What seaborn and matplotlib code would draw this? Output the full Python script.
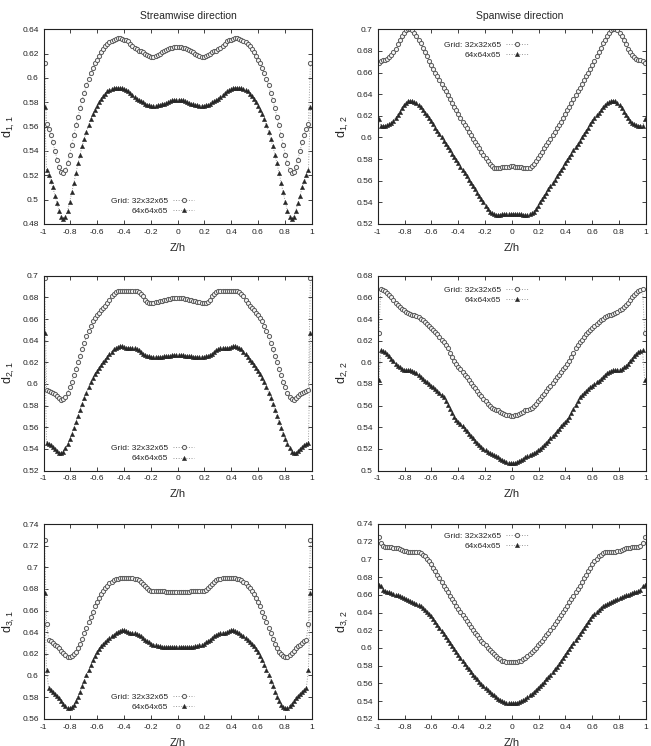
import matplotlib
matplotlib.use("Agg")
import matplotlib.pyplot as plt
from matplotlib.ticker import MultipleLocator, FuncFormatter
import numpy as np
import pandas as pd
import seaborn as sns

# ---------------- data (left half, Z from -1 to 0; profiles are symmetric) -------------
Z_HALF = [
    -0.992, -0.977, -0.961, -0.945, -0.930, -0.914, -0.898, -0.883,
    -0.867, -0.852, -0.836, -0.820, -0.805, -0.789, -0.773, -0.758,
    -0.742, -0.727, -0.711, -0.695, -0.680, -0.664, -0.648, -0.633,
    -0.617, -0.602, -0.586, -0.570, -0.555, -0.539, -0.523, -0.508,
    -0.492, -0.477, -0.461, -0.445, -0.430, -0.414, -0.398, -0.383,
    -0.367, -0.352, -0.336, -0.320, -0.305, -0.289, -0.273, -0.258,
    -0.242, -0.227, -0.211, -0.195, -0.180, -0.164, -0.148, -0.133,
    -0.117, -0.102, -0.086, -0.070, -0.055, -0.039, -0.023, -0.008]

D11_32 = [
    0.612, 0.562, 0.558, 0.553, 0.547, 0.540, 0.533, 0.527,
    0.523, 0.522, 0.524, 0.530, 0.537, 0.545, 0.553, 0.561,
    0.568, 0.575, 0.582, 0.588, 0.594, 0.599, 0.604, 0.608,
    0.612, 0.615, 0.618, 0.621, 0.624, 0.626, 0.628, 0.6295,
    0.6305, 0.6315, 0.632, 0.6325, 0.6325, 0.632, 0.6315, 0.631,
    0.630, 0.628, 0.6265, 0.625, 0.6235, 0.6225, 0.622, 0.621,
    0.620, 0.619, 0.618, 0.6175, 0.6175, 0.618, 0.619, 0.620,
    0.621, 0.622, 0.623, 0.624, 0.6248, 0.625, 0.6253, 0.6255]
D11_64 = [
    0.576, 0.524, 0.520, 0.515, 0.510, 0.503, 0.497, 0.491,
    0.486, 0.484, 0.486, 0.491, 0.498, 0.506, 0.514, 0.522,
    0.530, 0.537, 0.544, 0.550, 0.556, 0.561, 0.566, 0.570,
    0.574, 0.577, 0.580, 0.583, 0.585, 0.587, 0.589, 0.590,
    0.591, 0.5915, 0.592, 0.592, 0.592, 0.5915, 0.591, 0.590,
    0.589, 0.5875, 0.586, 0.5845, 0.583, 0.582, 0.581, 0.580,
    0.579, 0.578, 0.5775, 0.577, 0.577, 0.5772, 0.5775, 0.578,
    0.5785, 0.579, 0.5795, 0.580, 0.581, 0.5815, 0.582, 0.582]
D12_32 = [
    0.669, 0.671, 0.672, 0.672, 0.673, 0.674, 0.676, 0.679,
    0.682, 0.686, 0.690, 0.694, 0.697, 0.699, 0.700, 0.700,
    0.699, 0.697, 0.694, 0.6905, 0.687, 0.683, 0.679, 0.675,
    0.671, 0.6672, 0.6635, 0.660, 0.6565, 0.653, 0.6495, 0.646,
    0.6425, 0.639, 0.6355, 0.632, 0.6285, 0.625, 0.6215, 0.618,
    0.6147, 0.6115, 0.6083, 0.605, 0.602, 0.599, 0.596, 0.593,
    0.590, 0.587, 0.584, 0.581, 0.578, 0.5752, 0.5732, 0.5722,
    0.5718, 0.5718, 0.572, 0.5723, 0.5726, 0.5729, 0.5731, 0.5732]
D12_64 = [
    0.617, 0.611, 0.611, 0.611, 0.6115, 0.612, 0.6135, 0.6155,
    0.618, 0.621, 0.624, 0.627, 0.630, 0.632, 0.6335, 0.634,
    0.634, 0.633, 0.6315, 0.6298, 0.6278, 0.6255, 0.623, 0.6205,
    0.618, 0.615, 0.612, 0.609, 0.606, 0.603, 0.600, 0.597,
    0.594, 0.591, 0.588, 0.585, 0.582, 0.579, 0.576, 0.573,
    0.570, 0.567, 0.564, 0.561, 0.558, 0.555, 0.552, 0.549,
    0.546, 0.543, 0.540, 0.537, 0.534, 0.5315, 0.5298, 0.5288,
    0.5284, 0.5284, 0.5286, 0.5289, 0.5291, 0.5293, 0.5294, 0.5295]
D21_32 = [
    0.698, 0.594, 0.5935, 0.593, 0.592, 0.5905, 0.589, 0.587,
    0.5855, 0.586, 0.588, 0.592, 0.597, 0.602, 0.608, 0.614,
    0.620, 0.626, 0.632, 0.638, 0.644, 0.649, 0.654, 0.658,
    0.661, 0.664, 0.666, 0.668, 0.670, 0.6725, 0.675, 0.678,
    0.681, 0.683, 0.685, 0.686, 0.6862, 0.6862, 0.6862, 0.6862,
    0.686, 0.686, 0.686, 0.6858, 0.6855, 0.685, 0.6835, 0.681,
    0.678, 0.676, 0.675, 0.6748, 0.675, 0.6755, 0.676, 0.6765,
    0.677, 0.6775, 0.678, 0.6785, 0.679, 0.6792, 0.6793, 0.6793]
D21_64 = [
    0.647, 0.545, 0.5445, 0.5435, 0.542, 0.540, 0.538, 0.5365,
    0.536, 0.5375, 0.5405, 0.5445, 0.549, 0.554, 0.5595, 0.565,
    0.5705, 0.576, 0.5815, 0.587, 0.592, 0.597, 0.6015, 0.6055,
    0.609, 0.612, 0.615, 0.6175, 0.620, 0.6225, 0.625, 0.6275,
    0.630, 0.632, 0.6335, 0.6345, 0.635, 0.6348, 0.634, 0.6335,
    0.6335, 0.6335, 0.6333, 0.633, 0.6322, 0.631, 0.6295, 0.628,
    0.627, 0.626, 0.6255, 0.6252, 0.625, 0.625, 0.625, 0.625,
    0.6252, 0.6255, 0.6258, 0.626, 0.6263, 0.6265, 0.6266, 0.6266]
D22_32 = [
    0.627, 0.6675, 0.667, 0.666, 0.6645, 0.6625, 0.660, 0.6575,
    0.655, 0.6528, 0.651, 0.6495, 0.648, 0.6465, 0.6452, 0.6445,
    0.644, 0.6435, 0.643, 0.642, 0.6405, 0.639, 0.637, 0.6355,
    0.6338, 0.632, 0.630, 0.628, 0.6258, 0.6235, 0.621, 0.6185,
    0.6158, 0.6128, 0.609, 0.605, 0.6015, 0.5985, 0.596, 0.5935,
    0.591, 0.5885, 0.586, 0.5835, 0.581, 0.5785, 0.576, 0.5735,
    0.571, 0.5685, 0.566, 0.5638, 0.5615, 0.5595, 0.558, 0.557,
    0.5562, 0.5555, 0.5545, 0.5533, 0.5522, 0.5514, 0.551, 0.5508]
D22_64 = [
    0.584, 0.611, 0.6105, 0.6095, 0.608, 0.606, 0.6035, 0.601,
    0.5988, 0.597, 0.5955, 0.5942, 0.5933, 0.5928, 0.5925, 0.5925,
    0.5922, 0.5915, 0.590, 0.588, 0.586, 0.5843, 0.5828, 0.5815,
    0.580, 0.5785, 0.577, 0.5755, 0.5738, 0.572, 0.570, 0.5675,
    0.5645, 0.561, 0.557, 0.553, 0.5498, 0.547, 0.5448, 0.5428,
    0.5408, 0.5387, 0.5365, 0.5342, 0.532, 0.5298, 0.5277, 0.5257,
    0.5238, 0.522, 0.5203, 0.5187, 0.5172, 0.516, 0.515, 0.5142,
    0.5133, 0.5122, 0.511, 0.5097, 0.5085, 0.5076, 0.5071, 0.5069]
D31_32 = [
    0.725, 0.648, 0.633, 0.6315, 0.630, 0.6285, 0.627, 0.625,
    0.623, 0.621, 0.619, 0.6175, 0.617, 0.6178, 0.6195, 0.622,
    0.6255, 0.6295, 0.634, 0.639, 0.644, 0.649, 0.654, 0.659,
    0.664, 0.668, 0.672, 0.6755, 0.6785, 0.681, 0.683, 0.685,
    0.6865, 0.688, 0.689, 0.6895, 0.690, 0.690, 0.690, 0.690,
    0.690, 0.690, 0.690, 0.6895, 0.689, 0.688, 0.6865, 0.6845,
    0.6825, 0.6805, 0.679, 0.678, 0.6778, 0.678, 0.678, 0.678,
    0.678, 0.6778, 0.6775, 0.677, 0.6768, 0.6768, 0.677, 0.677]
D31_64 = [
    0.676, 0.605, 0.588, 0.5865, 0.585, 0.583, 0.581, 0.579,
    0.5765, 0.574, 0.5718, 0.570, 0.5695, 0.5705, 0.573, 0.5765,
    0.5805, 0.585, 0.590, 0.595, 0.600, 0.605, 0.6095, 0.614,
    0.618, 0.6215, 0.6245, 0.627, 0.629, 0.631, 0.633, 0.6345,
    0.636, 0.6375, 0.639, 0.6405, 0.6415, 0.642, 0.6418, 0.641,
    0.640, 0.6395, 0.6392, 0.639, 0.6385, 0.6375, 0.636, 0.6345,
    0.633, 0.6318, 0.6305, 0.6295, 0.6285, 0.6278, 0.6272, 0.6268,
    0.6265, 0.6265, 0.6265, 0.6265, 0.6265, 0.6265, 0.6265, 0.6265]
D32_32 = [
    0.725, 0.7185, 0.7148, 0.714, 0.7138, 0.7136, 0.7135, 0.7133,
    0.713, 0.7125, 0.7118, 0.711, 0.710, 0.7092, 0.7087, 0.7085,
    0.7085, 0.7085, 0.7083, 0.708, 0.707, 0.7055, 0.7035, 0.701,
    0.698, 0.6945, 0.6905, 0.6865, 0.6825, 0.6785, 0.6745, 0.6705,
    0.6665, 0.6627, 0.6589, 0.6551, 0.6513, 0.6476, 0.644, 0.6405,
    0.637, 0.6335, 0.630, 0.6267, 0.6235, 0.6203, 0.6172, 0.6142,
    0.6112, 0.6083, 0.6055, 0.6028, 0.6002, 0.5977, 0.5953, 0.593,
    0.5908, 0.5888, 0.587, 0.5857, 0.5848, 0.5843, 0.584, 0.5838]
D32_64 = [
    0.6715, 0.6695, 0.6652, 0.6642, 0.6636, 0.663, 0.6622, 0.6613,
    0.6603, 0.6593, 0.6582, 0.6572, 0.6562, 0.6552, 0.6543, 0.6533,
    0.6522, 0.651, 0.6498, 0.6485, 0.647, 0.6452, 0.6432, 0.641,
    0.6385, 0.6358, 0.6328, 0.6296, 0.6263, 0.623, 0.6196, 0.6162,
    0.6127, 0.6092, 0.6057, 0.6022, 0.5987, 0.5952, 0.5918, 0.5885,
    0.5852, 0.582, 0.5788, 0.5757, 0.5727, 0.5698, 0.567, 0.5643,
    0.5617, 0.5592, 0.5568, 0.5545, 0.5523, 0.5502, 0.5482, 0.5463,
    0.5445, 0.5428, 0.5413, 0.54, 0.539, 0.5383, 0.5379, 0.5377]

SERIES_LABELS = ["Grid: 32x32x65", "64x64x65"]
COL_TITLES = ["Streamwise direction", "Spanwise direction"]
Y_LABELS = [r"$d_{1,1}$", r"$d_{1,2}$", r"$d_{2,1}$", r"$d_{2,2}$", r"$d_{3,1}$", r"$d_{3,2}$"]
Y_LIMITS = [(0.48, 0.64), (0.52, 0.70), (0.52, 0.70), (0.50, 0.68), (0.56, 0.74), (0.52, 0.74)]
PANEL_DATA = [(D11_32, D11_64), (D12_32, D12_64), (D21_32, D21_64),
              (D22_32, D22_64), (D31_32, D31_64), (D32_32, D32_64)]


def full(half):
    return list(half) + list(half)[::-1]


Z_FULL = Z_HALF + [-z for z in Z_HALF[::-1]]

# ---------------- style -------------
sns.set_theme(style="ticks")
plt.rcParams["font.family"] = ["Liberation Sans", "DejaVu Sans"]
plt.rcParams["mathtext.default"] = "regular"
plt.rcParams["axes.unicode_minus"] = False

W, H = 651, 746
fig = plt.figure(figsize=(W / 100, H / 100), dpi=100)
fig.patch.set_facecolor("white")

col_left = [43.5, 377.7]
ax_w = 268.0
row_top = [29.3, 275.8, 524.0]
ax_h = 194.7

legend_pos = [(0.407, 0.092), (0.403, 0.892), (0.407, 0.088),
              (0.403, 0.902), (0.407, 0.086), (0.403, 0.912)]

fmt = FuncFormatter(lambda v, p: "%g" % round(v, 4))

for i in range(6):
    r, c = divmod(i, 2)
    l = col_left[c] / W
    b = 1 - (row_top[r] + ax_h) / H
    ax = fig.add_axes([l, b, ax_w / W, ax_h / H])
    d32, d64 = PANEL_DATA[i]
    df = pd.DataFrame({"Z": Z_FULL, "v32": full(d32), "v64": full(d64)})
    sns.lineplot(data=df, x="Z", y="v32", ax=ax, sort=False, errorbar=None,
                 color="#9a9a9a", linestyle=":", linewidth=0.7,
                 marker="o", markersize=3.0, markerfacecolor="#f4f4f4",
                 markeredgecolor="#5a5a5a", markeredgewidth=0.7,
                 label=SERIES_LABELS[0])
    sns.lineplot(data=df, x="Z", y="v64", ax=ax, sort=False, errorbar=None,
                 color="#9a9a9a", linestyle=":", linewidth=0.7,
                 marker="^", markersize=3.1, markerfacecolor="#262626",
                 markeredgecolor="#262626", markeredgewidth=0.3,
                 label=SERIES_LABELS[1])
    ax.set_xlim(-1, 1)
    ax.set_ylim(*Y_LIMITS[i])
    ax.xaxis.set_major_locator(MultipleLocator(0.2))
    ax.yaxis.set_major_locator(MultipleLocator(0.02))
    ax.xaxis.set_major_formatter(fmt)
    ax.yaxis.set_major_formatter(fmt)
    ax.tick_params(direction="in", top=True, right=True, length=3.2, width=0.6,
                   labelsize=6, pad=3.5, colors="#222222")
    for s in ax.spines.values():
        s.set_linewidth(0.8)
        s.set_color("#222222")
    ax.set_xlabel("Z/h", fontsize=8, labelpad=5)
    ax.set_ylabel(Y_LABELS[i], fontsize=9, labelpad=4)
    ax.legend(loc="center", bbox_to_anchor=legend_pos[i], frameon=False,
              markerfirst=False, fontsize=6, handlelength=2.6, handletextpad=0.6,
              labelspacing=0.3, borderpad=0, borderaxespad=0, numpoints=1)

fig.text(188 / W, 1 - 16 / H, COL_TITLES[0], ha="center", va="center", fontsize=7.5)
fig.text(520 / W, 1 - 16 / H, COL_TITLES[1], ha="center", va="center", fontsize=7.5)

fig.savefig("out.png", dpi=100, facecolor="white")
